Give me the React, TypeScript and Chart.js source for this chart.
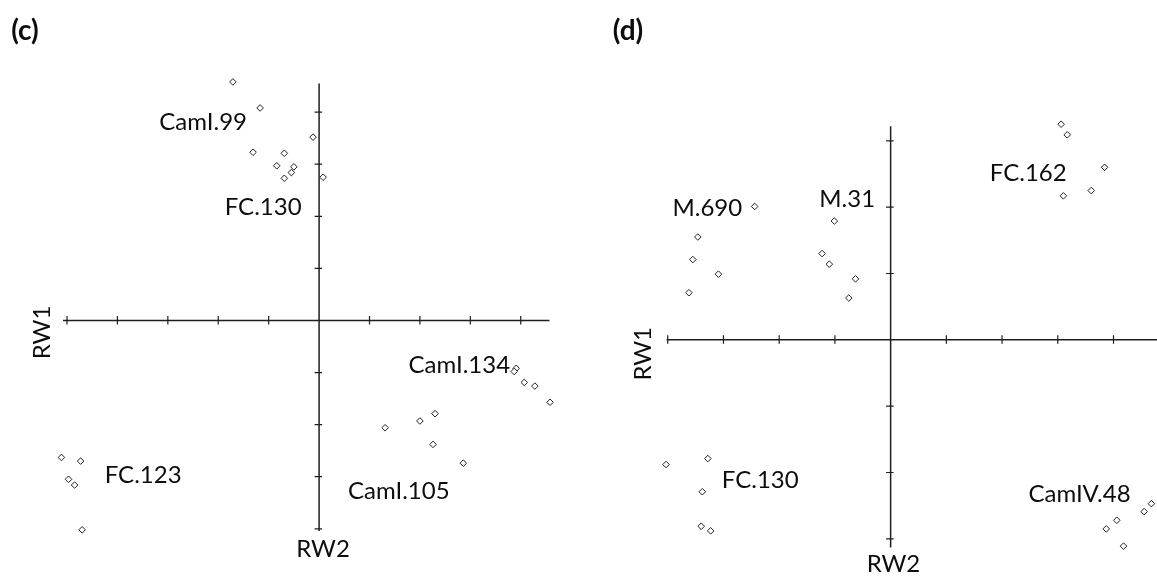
import React, { useEffect, useRef } from "react";
import { Chart, registerables } from "chart.js";

Chart.register(...registerables);

// ---------------- Panel (c) data ----------------
const C_CAMI99_X = [-1.71, -1.17, -1.31, -0.69, -0.12];
const C_CAMI99_Y = [4.58, 4.08, 3.23, 3.21, 3.52];
const C_FC130_X = [-0.84, -0.5, -0.55, -0.69, 0.08];
const C_FC130_Y = [2.97, 2.95, 2.84, 2.73, 2.75];
const C_CAMI134_X = [3.91, 3.87, 4.07, 4.28, 4.58];
const C_CAMI134_Y = [-0.92, -0.98, -1.19, -1.26, -1.57];
const C_CAMI105_X = [1.31, 2.0, 2.3, 2.26, 2.86];
const C_CAMI105_Y = [-2.06, -1.93, -1.79, -2.38, -2.74];
const C_FC123_X = [-5.11, -4.73, -4.97, -4.85, -4.7];
const C_FC123_Y = [-2.63, -2.7, -3.05, -3.16, -4.02];

const C_GROUP_NAMES = ["CamI.99", "FC.130", "CamI.134", "CamI.105", "FC.123"];
const C_NAME_X = [-2.3, -1.11, 2.78, 1.58, -3.49];
const C_NAME_Y = [3.82, 2.19, -0.85, -3.26, -2.96];

const C_X_TICKS = [-5, -4, -3, -2, -1, 1, 2, 3, 4];
const C_Y_TICKS = [-4, -3, -2, -1, 1, 2, 3, 4];
const C_AXIS_X = [-5.08, 4.57];
const C_AXIS_Y = [-4.04, 4.55];
const C_VIEW_X = [-6.23, 5.076];
const C_VIEW_Y = [-4.868, 6.057];
const C_AXIS_TITLE_POS = { rw1: [-5.51, -0.23], rw2: [0.08, -4.38] };

// ---------------- Panel (d) data ----------------
const D_M690_X = [-2.44, -3.46, -3.55, -3.09, -3.62];
const D_M690_Y = [2.01, 1.55, 1.21, 0.99, 0.71];
const D_M31_X = [-1.01, -1.23, -1.1, -0.63, -0.75];
const D_M31_Y = [1.79, 1.3, 1.14, 0.92, 0.63];
const D_FC162_X = [3.06, 3.17, 3.84, 3.6, 3.1];
const D_FC162_Y = [3.25, 3.09, 2.6, 2.25, 2.17];
const D_FC130_X = [-4.03, -3.28, -3.38, -3.4, -3.23];
const D_FC130_Y = [-1.88, -1.79, -2.29, -2.81, -2.88];
const D_CAMIV48_X = [3.87, 4.06, 4.18, 4.55, 4.68];
const D_CAMIV48_Y = [-2.85, -2.72, -3.11, -2.59, -2.47];

const D_GROUP_NAMES = ["M.690", "M.31", "FC.162", "FC.130", "CamIV.48"];
const D_NAME_X = [-3.29, -0.78, 2.47, -2.34, 3.39];
const D_NAME_Y = [2.0, 2.13, 2.52, -2.11, -2.31];

const D_X_TICKS = [-4, -3, -2, -1, 1, 2, 3, 4];
const D_Y_TICKS = [-3, -2, -1, 1, 2, 3];
const D_AXIS_X = [-4.02, 5.0];
const D_AXIS_Y = [-3.13, 3.22];
const D_VIEW_X = [-5.485, 4.691];
const D_VIEW_Y = [-3.53, 5.047];
const D_AXIS_TITLE_POS = { rw1: [-4.46, -0.21], rw2: [0.05, -3.37] };

const FONT_FAMILY = "Lato, 'Open Sans', 'DejaVu Sans', sans-serif";
const LABEL_SIZE = 24;
const LETTER_SIZE = 28;

function zip(xs: number[], ys: number[]) {
  return xs.map((x, i) => ({ x, y: ys[i] }));
}

type PanelProps = {
  width: number;
  height: number;
  left: number;
  letter: string;
  letterPos: [number, number];
  groups: { x: number[]; y: number[] }[];
  names: string[];
  nameX: number[];
  nameY: number[];
  xTicks: number[];
  yTicks: number[];
  axisX: number[];
  axisY: number[];
  viewX: number[];
  viewY: number[];
  titles: { rw1: number[]; rw2: number[] };
};

function Panel(p: PanelProps) {
  const ref = useRef<HTMLCanvasElement | null>(null);
  useEffect(() => {
    if (!ref.current) return;
    const drawText = (ctx: CanvasRenderingContext2D, text: string, cx: number, cy: number, font: string, size: number, rot = 0) => {
      ctx.save();
      ctx.translate(cx, cy);
      if (rot) ctx.rotate(rot);
      ctx.font = font;
      ctx.fillStyle = "#0d0d0d";
      ctx.textAlign = "center";
      ctx.textBaseline = "alphabetic";
      ctx.fillText(text, 0, size * 0.36);
      ctx.restore();
    };
    const plugin = {
      id: "crossAxes",
      beforeDatasetsDraw(chart: any) {
        const { ctx, scales } = chart;
        const sx = scales.x;
        const sy = scales.y;
        const x0 = sx.getPixelForValue(0);
        const y0 = sy.getPixelForValue(0);
        ctx.save();
        ctx.strokeStyle = "#1e1e1e";
        ctx.lineWidth = 1.5;
        ctx.beginPath();
        ctx.moveTo(sx.getPixelForValue(p.axisX[0]), y0);
        ctx.lineTo(sx.getPixelForValue(p.axisX[1]), y0);
        ctx.moveTo(x0, sy.getPixelForValue(p.axisY[0]));
        ctx.lineTo(x0, sy.getPixelForValue(p.axisY[1]));
        ctx.stroke();
        ctx.lineWidth = 1.2;
        ctx.beginPath();
        for (const t of p.xTicks) {
          const px = sx.getPixelForValue(t);
          ctx.moveTo(px, y0 - 4.5);
          ctx.lineTo(px, y0 + 4);
        }
        for (const t of p.yTicks) {
          const py = sy.getPixelForValue(t);
          ctx.moveTo(x0 - 4.5, py);
          ctx.lineTo(x0 + 3, py);
        }
        ctx.stroke();
        ctx.restore();
      },
      afterDatasetsDraw(chart: any) {
        const { ctx, scales } = chart;
        const sx = scales.x;
        const sy = scales.y;
        const f = `${LABEL_SIZE}px ${FONT_FAMILY}`;
        p.names.forEach((n, i) => {
          drawText(ctx, n, sx.getPixelForValue(p.nameX[i]), sy.getPixelForValue(p.nameY[i]), f, LABEL_SIZE);
        });
        drawText(ctx, "RW1", sx.getPixelForValue(p.titles.rw1[0]), sy.getPixelForValue(p.titles.rw1[1]), f, LABEL_SIZE, -Math.PI / 2);
        drawText(ctx, "RW2", sx.getPixelForValue(p.titles.rw2[0]), sy.getPixelForValue(p.titles.rw2[1]), f, LABEL_SIZE);
        drawText(ctx, p.letter, p.letterPos[0], p.letterPos[1], `bold ${LETTER_SIZE}px ${FONT_FAMILY}`, LETTER_SIZE * 0.8);
      },
    };
    const chart = new Chart(ref.current, {
      type: "scatter",
      data: {
        datasets: p.groups.map((g, i) => ({
          label: p.names[i],
          data: zip(g.x, g.y),
          pointStyle: "rectRot",
          pointRadius: 3.3,
          pointBorderWidth: 1,
          borderColor: "#222",
          backgroundColor: "#fff",
          pointBackgroundColor: "#fff",
          pointBorderColor: "#222",
          clip: false as any,
        })),
      },
      options: {
        animation: false,
        responsive: false,
        devicePixelRatio: 1,
        layout: { padding: 0 },
        plugins: { legend: { display: false }, tooltip: { enabled: false } },
        scales: {
          x: { type: "linear", min: p.viewX[0], max: p.viewX[1], display: false },
          y: { type: "linear", min: p.viewY[0], max: p.viewY[1], display: false },
        },
      },
      plugins: [plugin as any],
    });
    return () => chart.destroy();
  }, []);
  return (
    <canvas
      ref={ref}
      width={p.width}
      height={p.height}
      style={{ position: "absolute", left: p.left, top: 0, width: p.width, height: p.height, display: "block" }}
    />
  );
}

export default function App() {
  return (
    <div style={{ position: "fixed", left: 0, top: 0, width: 1157, height: 579, background: "#fff", overflow: "hidden" }}>
      <Panel
        width={580}
        height={579}
        left={0}
        letter="(c)"
        letterPos={[25, 32]}
        groups={[
          { x: C_CAMI99_X, y: C_CAMI99_Y },
          { x: C_FC130_X, y: C_FC130_Y },
          { x: C_CAMI134_X, y: C_CAMI134_Y },
          { x: C_CAMI105_X, y: C_CAMI105_Y },
          { x: C_FC123_X, y: C_FC123_Y },
        ]}
        names={C_GROUP_NAMES}
        nameX={C_NAME_X}
        nameY={C_NAME_Y}
        xTicks={C_X_TICKS}
        yTicks={C_Y_TICKS}
        axisX={C_AXIS_X}
        axisY={C_AXIS_Y}
        viewX={C_VIEW_X}
        viewY={C_VIEW_Y}
        titles={C_AXIS_TITLE_POS}
      />
      <Panel
        width={577}
        height={579}
        left={580}
        letter="(d)"
        letterPos={[48, 32]}
        groups={[
          { x: D_M690_X, y: D_M690_Y },
          { x: D_M31_X, y: D_M31_Y },
          { x: D_FC162_X, y: D_FC162_Y },
          { x: D_FC130_X, y: D_FC130_Y },
          { x: D_CAMIV48_X, y: D_CAMIV48_Y },
        ]}
        names={D_GROUP_NAMES}
        nameX={D_NAME_X}
        nameY={D_NAME_Y}
        xTicks={D_X_TICKS}
        yTicks={D_Y_TICKS}
        axisX={D_AXIS_X}
        axisY={D_AXIS_Y}
        viewX={D_VIEW_X}
        viewY={D_VIEW_Y}
        titles={D_AXIS_TITLE_POS}
      />
    </div>
  );
}
